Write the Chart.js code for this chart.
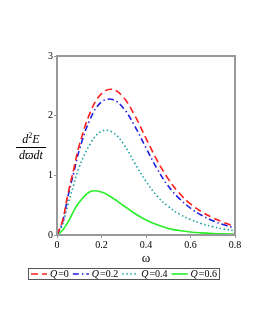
<!DOCTYPE html>
<html>
<head>
<meta charset="utf-8">
<script src="https://cdn.jsdelivr.net/npm/chart.js@4/dist/chart.umd.min.js"></script>
<style>
	html, body { margin: 0; padding: 0; background: #fff; }
	#wrap { width: 258px; height: 333px; }
</style>
</head>
<body>
<div id="wrap"><canvas id="chart" width="258" height="333"></canvas></div>
<script>
// DATA
const omega = [0, 0.025, 0.05, 0.075, 0.1, 0.15, 0.2, 0.25, 0.3, 0.35, 0.4, 0.45, 0.5, 0.55, 0.6, 0.65, 0.7, 0.75, 0.8];
const q_labels = ["0", "0.2", "0.4", "0.6"];
const q0 = [0, 0.24, 0.70, 1.10, 1.50, 2.06, 2.37, 2.44, 2.30, 2.00, 1.62, 1.25, 0.94, 0.70, 0.52, 0.39, 0.29, 0.21, 0.14];
const q02 = [0, 0.22, 0.66, 1.04, 1.42, 1.95, 2.23, 2.27, 2.12, 1.82, 1.46, 1.11, 0.82, 0.61, 0.45, 0.33, 0.24, 0.17, 0.12];
const q04 = [0, 0.18, 0.52, 0.84, 1.14, 1.53, 1.74, 1.72, 1.52, 1.20, 0.90, 0.65, 0.48, 0.35, 0.26, 0.19, 0.14, 0.10, 0.07];
const q06 = [0, 0.08, 0.22, 0.40, 0.55, 0.73, 0.72, 0.62, 0.49, 0.36, 0.25, 0.17, 0.11, 0.075, 0.05, 0.035, 0.025, 0.02, 0.015];
const x_ticks = [0, 0.2, 0.4, 0.6, 0.8];
const y_ticks = [0, 1, 2, 3];

const series = [q0, q02, q04, q06];
const colors = ["#ff1e1e", "#1e1ee6", "#1ea0a0", "#28f028"];
const dashes = [[7, 4], [6, 3, 1.5, 3], [1.5, 2.5], []];
const frame_color = "#999999";
const serif = "'Liberation Serif', 'DejaVu Serif', serif";

const to_points = vals => vals.map((v, i) => ({ x: omega[i], y: v }));

const datasets = series.map((vals, i) => ({
	label: "Q = " + q_labels[i],
	data: to_points(vals),
	borderColor: colors[i],
	borderDash: dashes[i],
	borderWidth: 1.6,
	pointRadius: 0,
	fill: false,
	tension: 0.4
}));

// frame, axis title, fraction label, legend
const decorations = {
	id: "decorations",
	afterDraw(chart) {
		const ctx = chart.ctx;
		const area = chart.chartArea;
		ctx.save();
		ctx.strokeStyle = frame_color;
		ctx.lineWidth = 2;
		ctx.setLineDash([]);
		ctx.strokeRect(area.left, area.top, area.right - area.left, area.bottom - area.top);

		ctx.fillStyle = "#000";
		ctx.textAlign = "center";
		ctx.textBaseline = "middle";
		ctx.font = "13px " + serif;
		ctx.fillText("ω", (area.left + area.right) / 2, 259);

		// y label as a fraction
		ctx.font = "italic 12px " + serif;
		const cx = 31;
		ctx.textAlign = "left";
		const d_w = ctx.measureText("d").width;
		ctx.font = "8px " + serif;
		const two_w = ctx.measureText("2").width;
		ctx.font = "italic 12px " + serif;
		const e_w = ctx.measureText("E").width;
		let nx = cx - (d_w + two_w + e_w) / 2;
		ctx.fillText("d", nx, 140);
		ctx.font = "8px " + serif;
		ctx.fillText("2", nx + d_w, 135.5);
		ctx.font = "italic 12px " + serif;
		ctx.fillText("E", nx + d_w + two_w, 140);
		ctx.textAlign = "center";
		ctx.fillText("dϖdt", cx, 155.5);
		ctx.strokeStyle = "#000";
		ctx.lineWidth = 1;
		ctx.beginPath();
		ctx.moveTo(16, 147.5);
		ctx.lineTo(46, 147.5);
		ctx.stroke();

		// legend
		const lx = 28, ly = 268, lw = 191, lh = 11;
		ctx.strokeStyle = "#555";
		ctx.lineWidth = 1;
		ctx.strokeRect(lx + 0.5, ly + 0.5, lw, lh);
		let x = lx + 3;
		const mid = ly + lh / 2 + 0.5;
		chart.data.datasets.forEach((ds, i) => {
			ctx.strokeStyle = ds.borderColor;
			ctx.lineWidth = 1.6;
			ctx.setLineDash(ds.borderDash);
			ctx.beginPath();
			ctx.moveTo(x, mid);
			ctx.lineTo(x + 16, mid);
			ctx.stroke();
			ctx.setLineDash([]);
			x += 19;
			ctx.textAlign = "left";
			ctx.fillStyle = "#000";
			ctx.font = "italic 10px " + serif;
			ctx.fillText("Q", x, mid);
			x += ctx.measureText("Q").width + 1;
			ctx.font = "10px " + serif;
			const rest = "=" + q_labels[i];
			ctx.fillText(rest, x, mid);
			x += ctx.measureText(rest).width + 4;
		});
		ctx.restore();
	}
};

const tick_font = { family: serif, size: 10 };

const options = {
	responsive: false,
	animation: false,
	layout: {
		padding: { top: 56, right: 23, left: 0, bottom: 0 }
	},
	scales: {
		x: {
			type: "linear",
			min: 0,
			max: 0.8,
			afterFit: scale => { scale.height = 98; },
			afterBuildTicks: scale => { scale.ticks = x_ticks.map(v => ({ value: v })); },
			border: { display: false },
			grid: {
				drawOnChartArea: false,
				color: frame_color,
				tickLength: 3
			},
			ticks: {
				font: tick_font,
				color: "#000",
				padding: 1,
				maxRotation: 0,
				callback: value => String(value)
			}
		},
		y: {
			min: 0,
			max: 3,
			afterFit: scale => { scale.width = 57; },
			afterBuildTicks: scale => { scale.ticks = y_ticks.map(v => ({ value: v })); },
			border: { display: false },
			grid: {
				drawOnChartArea: false,
				color: frame_color,
				tickLength: 3
			},
			ticks: {
				font: tick_font,
				color: "#000",
				padding: 1,
				callback: value => String(value)
			}
		}
	},
	plugins: {
		legend: { display: false },
		tooltip: { enabled: false }
	}
};

const config = {
	type: "line",
	data: { datasets: datasets },
	options: options,
	plugins: [decorations]
};

new Chart(document.getElementById("chart"), config);
</script>
</body>
</html>
